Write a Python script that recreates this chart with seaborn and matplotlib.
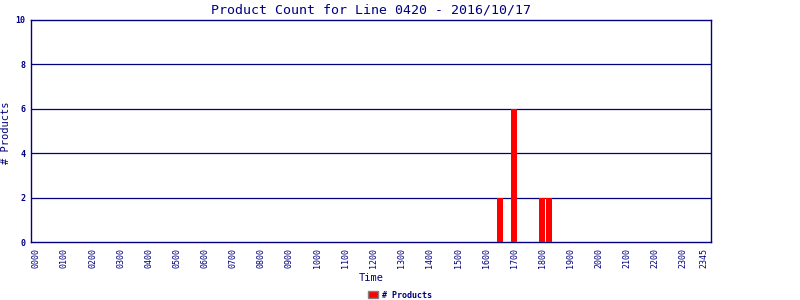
import matplotlib
matplotlib.use("Agg")
import matplotlib.pyplot as plt
import seaborn as sns
import pandas as pd
from matplotlib.patches import Patch

# Data (time of day in hours, product counts)
times = ["1630", "1700", "1800", "1815"]
counts = [2, 6, 2, 2]
tick_labels = ["0000", "0100", "0200", "0300", "0400", "0500", "0600", "0700",
               "0800", "0900", "1000", "1100", "1200", "1300", "1400", "1500",
               "1600", "1700", "1800", "1900", "2000", "2100", "2200", "2300", "2345"]
y_ticks = [0, 2, 4, 6, 8, 10]

def to_hours(t):
    return int(t[:2]) + int(t[2:]) / 60.0

df = pd.DataFrame({"hour": [to_hours(t) for t in times], "count": counts})

sns.set_theme(style="white")
plt.rcParams["font.family"] = ["DejaVu Sans Mono", "DejaVu Sans"]
navy = "#000080"

fig = plt.figure(figsize=(8, 3), dpi=100)
ax = fig.add_axes([31 / 800, 1 - 242 / 300, (711 - 31) / 800, (242 - 20) / 300])

sns.barplot(data=df, x="hour", y="count", native_scale=True, color="#ff0000",
            width=0.86, saturation=1, linewidth=0, edgecolor="none",
            ax=ax, legend=False, zorder=3)

ax.set_xlim(-0.19, 24.0)
ax.set_ylim(0, 10)
ax.set_xticks([to_hours(t) for t in tick_labels])
ax.set_xticklabels(tick_labels, rotation=90, fontsize=6, color=navy)
ax.set_yticks(y_ticks)
ax.set_yticklabels([str(v) for v in y_ticks], fontsize=6, color=navy, fontweight="bold")
ax.tick_params(axis="both", length=0, pad=4)

for v in y_ticks[1:-1]:
    ax.axhline(v, color=navy, lw=0.9, zorder=1)

for s in ax.spines.values():
    s.set_color(navy)
    s.set_linewidth(1.0)

ax.set_title("Product Count for Line 0420 - 2016/10/17", fontsize=9.5, color=navy, pad=5)
ax.set_xlabel("Time", fontsize=7.5, color=navy, labelpad=4)
ax.set_ylabel("# Products", fontsize=7.5, color=navy)
ax.yaxis.set_label_coords(-0.029, 0.49)

h = Patch(facecolor="#ff0000", edgecolor="#808080", linewidth=1)
leg = fig.legend([h], ["# Products"], loc="center", bbox_to_anchor=(400 / 800, 1 - 295 / 300),
                 frameon=False, fontsize=6, handlelength=1.2, handleheight=0.9,
                 handletextpad=0.4, borderpad=0)
for t in leg.get_texts():
    t.set_color(navy)
    t.set_fontweight("bold")

fig.savefig("out.png", dpi=100)
